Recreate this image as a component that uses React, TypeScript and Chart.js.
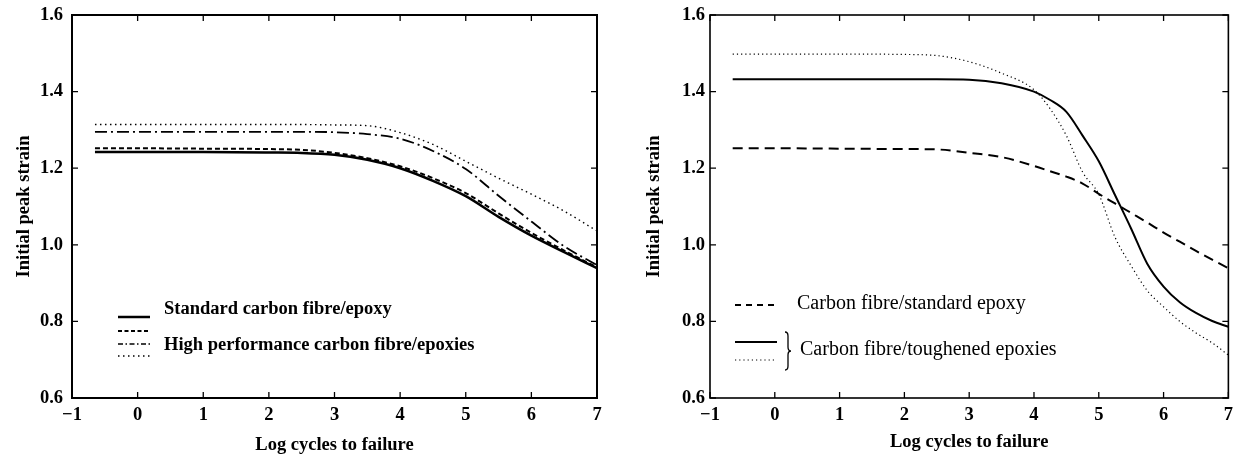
import React, { useEffect, useRef } from "react";
import { Chart, registerables } from "chart.js";

Chart.register(...registerables);

// ---------- data ----------
const xTickValues = [-1, 0, 1, 2, 3, 4, 5, 6, 7];
const xTickLabels = ["\u22121", "0", "1", "2", "3", "4", "5", "6", "7"];
const yTickValues = [0.6, 0.8, 1.0, 1.2, 1.4, 1.6];
const yTickLabels = ["0.6", "0.8", "1.0", "1.2", "1.4", "1.6"];

const xTitle = "Log cycles to failure";
const yTitle = "Initial peak strain";

// Left panel
const leftX = [-0.65, 0, 1, 2, 2.5, 3, 3.5, 4, 4.5, 5, 5.5, 6, 6.5, 7];
const leftStandard = [1.242, 1.242, 1.242, 1.241, 1.24, 1.235, 1.222, 1.2, 1.167, 1.127, 1.073, 1.024, 0.981, 0.939];
const leftHPDashed = [1.252, 1.252, 1.251, 1.25, 1.248, 1.24, 1.226, 1.205, 1.174, 1.135, 1.082, 1.031, 0.985, 0.941];
const leftHPDashDot = [1.295, 1.295, 1.295, 1.295, 1.295, 1.294, 1.289, 1.277, 1.245, 1.198, 1.128, 1.061, 0.996, 0.947];
const leftHPDotted = [1.314, 1.314, 1.314, 1.314, 1.314, 1.313, 1.311, 1.293, 1.262, 1.218, 1.174, 1.132, 1.088, 1.036];
const leftLegendLabels = ["Standard carbon fibre/epoxy", "High performance carbon fibre/epoxies"];

// Right panel
const rightX = [-0.65, 0, 1, 2, 2.5, 3, 3.5, 4, 4.25, 4.5, 4.75, 5, 5.25, 5.5, 5.75, 6, 6.25, 6.5, 6.75, 7];
const rightStandard = [1.252, 1.252, 1.251, 1.25, 1.249, 1.24, 1.229, 1.206, 1.192, 1.178, 1.16, 1.133, 1.108, 1.083, 1.058, 1.032, 1.008, 0.984, 0.961, 0.939];
const rightToughSolid = [1.432, 1.432, 1.432, 1.432, 1.432, 1.431, 1.422, 1.4, 1.378, 1.347, 1.285, 1.218, 1.13, 1.042, 0.95, 0.891, 0.85, 0.822, 0.801, 0.786];
const rightToughDotted = [1.498, 1.498, 1.498, 1.497, 1.494, 1.478, 1.448, 1.405, 1.355, 1.285, 1.19, 1.132, 1.02, 0.945, 0.88, 0.838, 0.8, 0.77, 0.744, 0.712];
const rightLegendLabels = ["Carbon fibre/standard epoxy", "Carbon fibre/toughened epoxies"];

// ---------- helpers ----------
const FONT = "'Liberation Serif', 'Times New Roman', serif";
const zip = (xs: number[], ys: number[]) => xs.map((x, i) => ({ x, y: ys[i] }));

const frameTicksPlugin = (frameWidth: number) => ({
  id: "frameTicks",
  afterDraw(chart: any) {
    const { ctx, chartArea, scales } = chart;
    const { left, right, top, bottom } = chartArea;
    const x = scales.x;
    const y = scales.y;
    ctx.save();
    ctx.strokeStyle = "#000";
    ctx.lineWidth = frameWidth;
    ctx.strokeRect(left, top, right - left, bottom - top);
    const len = 6;
    ctx.lineWidth = 1.3;
    ctx.beginPath();
    for (const v of xTickValues) {
      const px = x.getPixelForValue(v);
      ctx.moveTo(px, bottom);
      ctx.lineTo(px, bottom - len);
      ctx.moveTo(px, top);
      ctx.lineTo(px, top + len);
    }
    for (const v of yTickValues) {
      const py = y.getPixelForValue(v);
      ctx.moveTo(left, py);
      ctx.lineTo(left + len, py);
      ctx.moveTo(right, py);
      ctx.lineTo(right - len, py);
    }
    ctx.stroke();
    ctx.restore();
  },
});

const sampleLine = (ctx: any, x1: number, x2: number, y: number, dash: number[], width: number) => {
  ctx.save();
  ctx.strokeStyle = "#000";
  ctx.lineWidth = width;
  ctx.setLineDash(dash);
  ctx.beginPath();
  ctx.moveTo(x1, y);
  ctx.lineTo(x2, y);
  ctx.stroke();
  ctx.restore();
};

const leftLegendPlugin = {
  id: "leftLegend",
  afterDraw(chart: any) {
    const { ctx, chartArea } = chart;
    const L = chartArea.left;
    const x1 = L + 46;
    const x2 = L + 78;
    sampleLine(ctx, x1, x2, 317, [], 2.5);
    sampleLine(ctx, x1, x2, 331, [4, 2.5], 1.8);
    sampleLine(ctx, x1, x2, 344, [5, 2.5, 1.5, 2.5], 1.6);
    sampleLine(ctx, x1, x2, 356, [1.5, 3.5], 1.4);
    ctx.save();
    ctx.fillStyle = "#000";
    ctx.font = `bold 18.5px ${FONT}`;
    ctx.textBaseline = "middle";
    ctx.textAlign = "left";
    ctx.fillText(leftLegendLabels[0], L + 92, 309);
    ctx.fillText(leftLegendLabels[1], L + 92, 345);
    ctx.restore();
  },
};

const rightLegendPlugin = {
  id: "rightLegend",
  afterDraw(chart: any) {
    const { ctx, chartArea } = chart;
    const L = chartArea.left;
    const x1 = L + 25;
    const x2 = L + 67;
    sampleLine(ctx, x1, x2, 305, [6, 5], 1.8);
    sampleLine(ctx, x1, x2, 342, [], 2);
    sampleLine(ctx, x1, x2, 360, [1.2, 3], 1.2);
    // brace
    const bx = L + 75;
    const by1 = 332;
    const by2 = 370;
    const bm = (by1 + by2) / 2;
    ctx.save();
    ctx.strokeStyle = "#000";
    ctx.lineWidth = 1.3;
    ctx.beginPath();
    ctx.moveTo(bx, by1);
    ctx.quadraticCurveTo(bx + 3, by1, bx + 3, by1 + 4);
    ctx.lineTo(bx + 3, bm - 4);
    ctx.quadraticCurveTo(bx + 3, bm, bx + 6, bm);
    ctx.quadraticCurveTo(bx + 3, bm, bx + 3, bm + 4);
    ctx.lineTo(bx + 3, by2 - 4);
    ctx.quadraticCurveTo(bx + 3, by2, bx, by2);
    ctx.stroke();
    ctx.fillStyle = "#000";
    ctx.font = `20px ${FONT}`;
    ctx.textBaseline = "middle";
    ctx.textAlign = "left";
    ctx.fillText(rightLegendLabels[0], L + 87, 304);
    ctx.fillText(rightLegendLabels[1], L + 90, 350);
    ctx.restore();
  },
};

const makeOptions = (cfg: {
  yAxisWidth: number;
  padRight: number;
  yTitlePad: number;
  yTickPad: number;
  xTitlePadBottom: number;
}) => {
  const tickFont = { family: FONT, size: 18.5, weight: "bold" as const };
  return {
    animation: false as const,
    responsive: false,
    layout: { padding: { left: 0, right: cfg.padRight, top: 15, bottom: 0 } },
    plugins: { legend: { display: false }, tooltip: { enabled: false } },
    elements: { point: { radius: 0 } },
    scales: {
      x: {
        type: "linear" as const,
        min: -1,
        max: 7,
        afterBuildTicks: (s: any) => {
          s.ticks = xTickValues.map((v) => ({ value: v }));
        },
        afterFit: (s: any) => {
          s.height = 60;
        },
        ticks: {
          autoSkip: false,
          maxRotation: 0,
          padding: 6,
          color: "#000",
          font: tickFont,
          callback: (v: any) => xTickLabels[xTickValues.indexOf(Number(v))],
        },
        grid: { display: false, drawTicks: false },
        border: { display: false },
        title: {
          display: true,
          text: xTitle,
          color: "#000",
          font: tickFont,
          padding: { top: 0, bottom: cfg.xTitlePadBottom },
        },
      },
      y: {
        type: "linear" as const,
        min: 0.6,
        max: 1.6,
        afterBuildTicks: (s: any) => {
          s.ticks = yTickValues.map((v) => ({ value: v }));
        },
        afterFit: (s: any) => {
          s.width = cfg.yAxisWidth;
          s.paddingTop = 10;
          s.paddingBottom = 10;
        },
        ticks: {
          padding: cfg.yTickPad,
          color: "#000",
          font: tickFont,
          callback: (v: any) => {
            const i = yTickValues.findIndex((t) => Math.abs(t - Number(v)) < 1e-6);
            return i >= 0 ? yTickLabels[i] : "";
          },
        },
        grid: { display: false, drawTicks: false },
        border: { display: false },
        title: {
          display: true,
          text: yTitle,
          color: "#000",
          font: tickFont,
          padding: { top: cfg.yTitlePad, bottom: 0 },
        },
      },
    },
  };
};

function LeftChart() {
  const ref = useRef<HTMLCanvasElement | null>(null);
  useEffect(() => {
    if (!ref.current) return;
    const common = { fill: false, pointRadius: 0, cubicInterpolationMode: "monotone" as const, borderColor: "#000" };
    const chart = new Chart(ref.current, {
      type: "line",
      data: {
        datasets: [
          { ...common, label: "Standard", data: zip(leftX, leftStandard), borderWidth: 2.5 },
          { ...common, label: "HP dashed", data: zip(leftX, leftHPDashed), borderWidth: 2, borderDash: [5, 3] },
          { ...common, label: "HP dash-dot", data: zip(leftX, leftHPDashDot), borderWidth: 1.8, borderDash: [12, 4, 2, 4] },
          { ...common, label: "HP dotted", data: zip(leftX, leftHPDotted), borderWidth: 1.4, borderDash: [1.5, 3.5] },
        ],
      },
      options: makeOptions({ yAxisWidth: 72, padRight: 23, yTitlePad: 13, yTickPad: 9, xTitlePadBottom: 2 }) as any,
      plugins: [frameTicksPlugin(2), leftLegendPlugin],
    });
    return () => chart.destroy();
  }, []);
  return <canvas ref={ref} width={620} height={458} style={{ display: "block" }} />;
}

function RightChart() {
  const ref = useRef<HTMLCanvasElement | null>(null);
  useEffect(() => {
    if (!ref.current) return;
    const common = { fill: false, pointRadius: 0, cubicInterpolationMode: "monotone" as const, borderColor: "#000" };
    const chart = new Chart(ref.current, {
      type: "line",
      data: {
        datasets: [
          { ...common, label: "Standard epoxy", data: zip(rightX, rightStandard), borderWidth: 2, borderDash: [10, 6] },
          { ...common, label: "Toughened solid", data: zip(rightX, rightToughSolid), borderWidth: 2 },
          { ...common, label: "Toughened dotted", data: zip(rightX, rightToughDotted), borderWidth: 1.2, borderDash: [1.2, 3] },
        ],
      },
      options: makeOptions({ yAxisWidth: 90, padRight: 7, yTitlePad: 23, yTickPad: 5, xTitlePadBottom: 5 }) as any,
      plugins: [frameTicksPlugin(1.6), rightLegendPlugin],
    });
    return () => chart.destroy();
  }, []);
  return <canvas ref={ref} width={619} height={458} style={{ display: "block" }} />;
}

export default function App() {
  return (
    <div
      style={{
        position: "fixed",
        left: 0,
        top: 0,
        width: 1239,
        height: 458,
        background: "#fff",
        overflow: "hidden",
      }}
    >
      <div style={{ position: "absolute", left: 0, top: 0, width: 620, height: 458 }}>
        <LeftChart />
      </div>
      <div style={{ position: "absolute", left: 620, top: 0, width: 619, height: 458 }}>
        <RightChart />
      </div>
    </div>
  );
}
